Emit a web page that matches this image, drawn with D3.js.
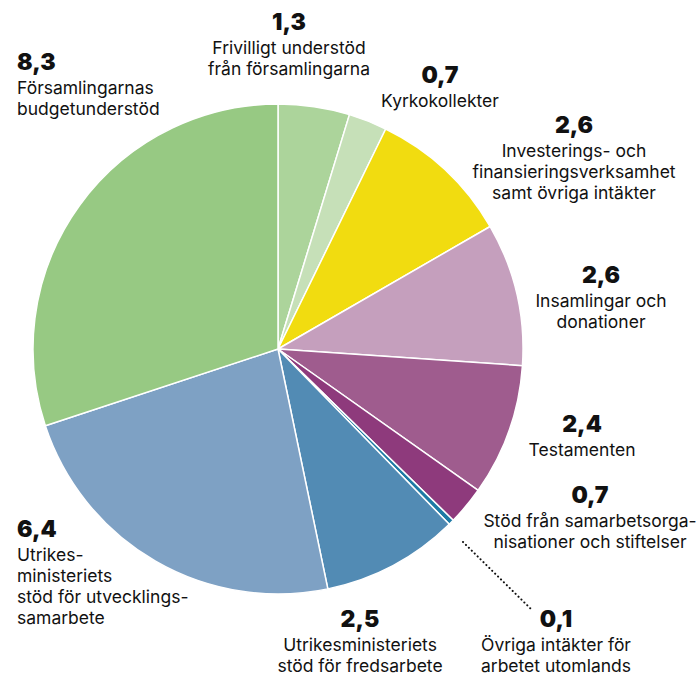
<!DOCTYPE html>
<html>
<head>
<meta charset="utf-8">
<script src="https://cdn.jsdelivr.net/npm/d3@7"></script>
<style>
  body { margin: 0; background: #fff; }
  text { font-family: Inter, "Open Sans", sans-serif; fill: #111; }
</style>
</head>
<body>
<div id="chart"></div>
<script>
// data, clockwise from 12 o'clock
const categories = [
  'Frivilligt understöd från församlingarna',
  'Kyrkokollekter',
  'Investerings- och finansieringsverksamhet samt övriga intäkter',
  'Insamlingar och donationer',
  'Testamenten',
  'Stöd från samarbetsorganisationer och stiftelser',
  'Övriga intäkter för arbetet utomlands',
  'Utrikesministeriets stöd för fredsarbete',
  'Utrikesministeriets stöd för utvecklingssamarbete',
  'Församlingarnas budgetunderstöd'
];
const values = [1.3, 0.7, 2.6, 2.6, 2.4, 0.7, 0.1, 2.5, 6.4, 8.3];
const valueLabels = ['1,3', '0,7', '2,6', '2,6', '2,4', '0,7', '0,1', '2,5', '6,4', '8,3'];
const labelLines = [
  ['Frivilligt understöd', 'från församlingarna'],
  ['Kyrkokollekter'],
  ['Investerings- och', 'finansieringsverksamhet', 'samt övriga intäkter'],
  ['Insamlingar och', 'donationer'],
  ['Testamenten'],
  ['Stöd från samarbetsorga-', 'nisationer och stiftelser'],
  ['Övriga intäkter för', 'arbetet utomlands'],
  ['Utrikesministeriets', 'stöd för fredsarbete'],
  ['Utrikes-', 'ministeriets', 'stöd för utvecklings-', 'samarbete'],
  ['Församlingarnas', 'budgetunderstöd']
];
const colors = ['#acd49b', '#c6e0b8', '#f1dc10', '#c59fbd', '#9f5c8e',
                '#8e3a7c', '#1d7aa5', '#528bb4', '#7ea1c4', '#97c983'];

// label anchor positions
const labelPos = [
  { x: 289, y: 30, anchor: 'middle' },
  { x: 440, y: 83, anchor: 'middle' },
  { x: 574, y: 133, anchor: 'middle' },
  { x: 601, y: 283, anchor: 'middle' },
  { x: 582, y: 432, anchor: 'middle' },
  { x: 590, y: 503, anchor: 'middle' },
  { x: 556, y: 627, anchor: 'middle' },
  { x: 360, y: 627, anchor: 'middle' },
  { x: 17, y: 537, anchor: 'start' },
  { x: 17, y: 70, anchor: 'start' }
];

const width = 699, height = 677;
const cx = 278, cy = 349, radius = 245;

const svg = d3.select('#chart')
  .append('svg')
  .attr('width', width)
  .attr('height', height);

const pie = d3.pie().sort(null).value(d => d);
const arc = d3.arc().innerRadius(0).outerRadius(radius);

const g = svg.append('g')
  .attr('transform', `translate(${cx},${cy})`);

g.selectAll('path')
  .data(pie(values))
  .enter().append('path')
  .attr('d', arc)
  .attr('fill', (d, i) => colors[i])
  .attr('stroke', '#fff')
  .attr('stroke-width', 1.5)
  .attr('stroke-linejoin', 'round');

// dotted leader for the tiny slice
svg.append('line')
  .attr('x1', 463).attr('y1', 542)
  .attr('x2', 532).attr('y2', 610)
  .attr('stroke', '#111')
  .attr('stroke-width', 2)
  .attr('stroke-dasharray', '0.1 4')
  .attr('stroke-linecap', 'round');

const labels = svg.selectAll('g.label')
  .data(values)
  .enter().append('g')
  .attr('class', 'label')
  .attr('transform', (d, i) => `translate(${labelPos[i].x},${labelPos[i].y})`);

labels.append('text')
  .attr('text-anchor', (d, i) => labelPos[i].anchor)
  .style('font-size', '23px')
  .style('font-weight', 900)
  .text((d, i) => valueLabels[i]);

labels.each(function(d, i) {
  const t = d3.select(this).append('text')
    .attr('text-anchor', labelPos[i].anchor)
    .style('font-size', '17.5px');
  labelLines[i].forEach((line, j) => {
    t.append('tspan')
      .attr('x', 0)
      .attr('y', 24 + j * 21)
      .text(line);
  });
});
</script>
</body>
</html>
